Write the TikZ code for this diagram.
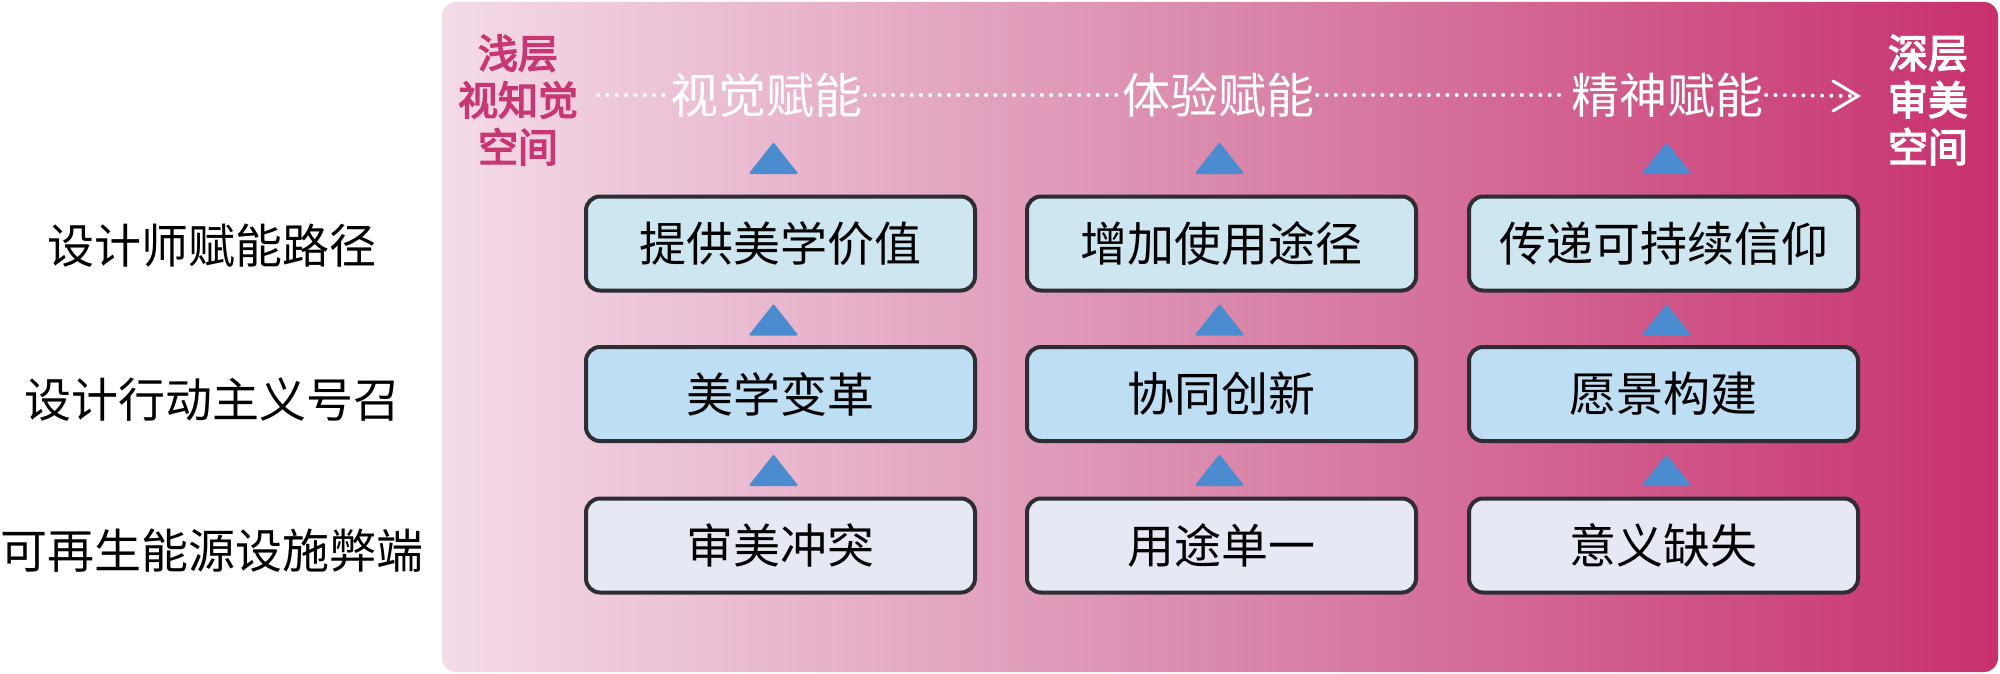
\documentclass[tikz,border=0pt]{standalone}
\usepackage{fontspec}
\newfontfamily\cjk{Noto Sans CJK SC}
\newfontfamily\cjkmed[FakeBold=3.5]{Noto Sans CJK SC}
\usetikzlibrary{calc}
\definecolor{bgL}{HTML}{F4DBE8}
\definecolor{bgM}{HTML}{DA89AC}
\definecolor{bgR}{HTML}{C8306D}
\definecolor{pinkTxt}{HTML}{C83773}
\definecolor{rowA}{HTML}{CDE6F0}
\definecolor{rowB}{HTML}{BEDEF3}
\definecolor{rowC}{HTML}{E6E9F3}
\definecolor{edge}{HTML}{2D2D33}
\definecolor{triC}{HTML}{4A8CCF}
\begin{document}
\begin{tikzpicture}[x=1pt,y=-1pt,font=\cjk,
  box/.style={draw=edge,line width=4pt,rounded corners=14pt,minimum width=389pt,minimum height=94pt,inner sep=0pt,text=black,font=\cjk\fontsize{47pt}{56pt}\selectfont},
  rowlabel/.style={inner sep=0pt,text=black,font=\cjk\fontsize{47pt}{56pt}\selectfont},
  toplabel/.style={inner sep=3pt,text=white,font=\cjk\fontsize{48pt}{56pt}\selectfont},
  sidelabel/.style={inner sep=0pt,align=center,font=\cjkmed\fontsize{40pt}{47pt}\selectfont},
  dotline/.style={white,line width=4pt,line cap=round,dash pattern=on 0pt off 9.3pt},
  tri/.style={fill=triC,draw=triC,line width=2pt,line join=round}]
\useasboundingbox (0,0) rectangle (2000,674);
% background
\path[left color=bgL,right color=bgR,middle color=bgM,rounded corners=14pt] (442,2) rectangle (1998,672);
% row labels
\node[rowlabel] (r1) at (212,246) {设计师赋能路径};
\node[rowlabel] (r2) at (212,400) {设计行动主义号召};
\node[rowlabel] (r3) at (212,551) {可再生能源设施弊端};
% side labels
\node[sidelabel,text=pinkTxt] (shallow) at (518,100) {浅层\\视知觉\\空间};
\node[sidelabel,text=white] (deep) at (1928,100) {深层\\审美\\空间};
% top labels
\node[toplabel] (l1) at (766,95) {视觉赋能};
\node[toplabel] (l2) at (1218,95) {体验赋能};
\node[toplabel] (l3) at (1667,95) {精神赋能};
\coordinate (tip) at (1858,96);
\draw[dotline] ([xshift=20pt]shallow.east |- l1.west) -- (l1.west);
\draw[dotline] (l1.east) -- (l2.west);
\draw[dotline] (l2.east) -- (l3.west);
\draw[dotline] (l3.east) -- ([xshift=-8pt]tip);
\draw[white,line width=3pt,line cap=round,line join=miter] ($(tip)+(-25,-15)$) -- (tip) -- ($(tip)+(-25,15)$);
% boxes
\node[box,fill=rowA] (a1) at (780.5,243.5) {提供美学价值};
\node[box,fill=rowA] (a2) at (1221.5,243.5) {增加使用途径};
\node[box,fill=rowA] (a3) at (1663.5,243.5) {传递可持续信仰};
\node[box,fill=rowB] (b1) at (780.5,394) {美学变革};
\node[box,fill=rowB] (b2) at (1221.5,394) {协同创新};
\node[box,fill=rowB] (b3) at (1663.5,394) {愿景构建};
\node[box,fill=rowC] (c1) at (780.5,545.5) {审美冲突};
\node[box,fill=rowC] (c2) at (1221.5,545.5) {用途单一};
\node[box,fill=rowC] (c3) at (1663.5,545.5) {意义缺失};
% triangles
\foreach \n/\dx in {1/-7,2/-2,3/3}{
  \coordinate (ta\n) at ($(a\n.north)+(\dx,-36)$);
  \coordinate (tb\n) at ($(b\n.north)+(\dx,-25)$);
  \coordinate (tc\n) at ($(c\n.north)+(\dx,-26)$);
  \foreach \t in {ta\n,tb\n,tc\n}{
    \filldraw[tri] ($(\t)+(-23,14.5)$) -- ($(\t)+(0,-14.5)$) -- ($(\t)+(23,14.5)$) -- cycle;
  }
}
\end{tikzpicture}
\end{document}
